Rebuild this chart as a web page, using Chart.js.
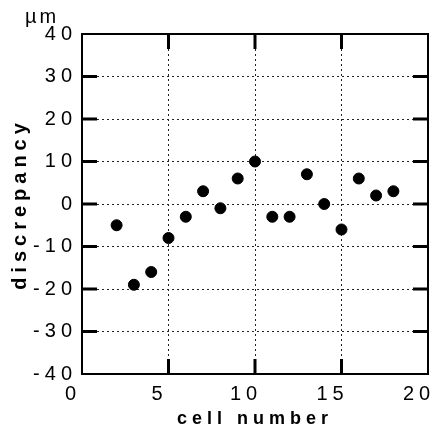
<!DOCTYPE html>
<html>
<head>
<meta charset="utf-8">
<script src="https://cdn.jsdelivr.net/npm/chart.js@4/dist/chart.umd.min.js"></script>
<style>
  html, body { margin: 0; padding: 0; background: #fff; }
  #chart { display: block; }
</style>
</head>
<body>
<canvas id="chart" width="435" height="432"></canvas>
<script>
const cellNumbers = [2, 3, 4, 5, 6, 7, 8, 9, 10, 11, 12, 13, 14, 15, 16, 17, 18];
const discrepancy = [-5, -19, -16, -8, -3, 3, -1, 6, 10, -3, -3, 7, 0, -6, 6, 2, 3];
const xTicks = [0, 5, 10, 15, 20];
const yTicks = [-40, -30, -20, -10, 0, 10, 20, 30, 40];
const unitLabel = "µm";

const FONT = "'Liberation Sans', Arial, Helvetica, sans-serif";

// spaced-out lettering like the original
const spacingPlugin = {
  id: "spacing",
  beforeUpdate: (chart) => { chart.ctx.letterSpacing = "5px"; },
  beforeDraw: (chart) => { chart.ctx.letterSpacing = "5px"; },
};

// full frame, inward tick marks and the unit label
const framePlugin = {
  id: "frame",
  afterDraw: (chart) => {
    const { ctx, chartArea: a, scales } = chart;
    ctx.save();
    ctx.strokeStyle = "#000";
    ctx.lineWidth = 2;
    ctx.setLineDash([]);
    ctx.strokeRect(a.left, a.top, a.right - a.left, a.bottom - a.top);

    ctx.lineWidth = 3;
    const len = 15;
    ctx.beginPath();
    xTicks.slice(1, -1).forEach((v) => {
      const px = scales.x.getPixelForValue(v);
      ctx.moveTo(px, a.bottom);
      ctx.lineTo(px, a.bottom - len);
      ctx.moveTo(px, a.top);
      ctx.lineTo(px, a.top + len);
    });
    yTicks.slice(1, -1).forEach((v) => {
      const py = scales.y.getPixelForValue(v);
      ctx.moveTo(a.left, py);
      ctx.lineTo(a.left + len, py);
      ctx.moveTo(a.right, py);
      ctx.lineTo(a.right - len, py);
    });
    ctx.stroke();

    ctx.letterSpacing = "3px";
    ctx.fillStyle = "#000";
    ctx.font = "20px " + FONT;
    ctx.textBaseline = "alphabetic";
    ctx.textAlign = "left";
    ctx.fillText(unitLabel, 25, 23);
    ctx.restore();
  },
};

new Chart(document.getElementById("chart"), {
  type: "scatter",
  data: {
    datasets: [
      {
        data: cellNumbers.map((x, i) => ({ x, y: discrepancy[i] })),
        backgroundColor: "#000",
        borderColor: "#000",
        pointRadius: 5.5,
        pointHoverRadius: 5.5,
      },
    ],
  },
  options: {
    responsive: false,
    animation: false,
    events: [],
    layout: { padding: { top: 34, right: 7, left: 0, bottom: 0 } },
    plugins: {
      legend: { display: false },
      tooltip: { enabled: false },
    },
    scales: {
      x: {
        type: "linear",
        min: 0,
        max: 20,
        afterBuildTicks: (scale) => { scale.ticks = xTicks.map((value) => ({ value })); },
        afterFit: (scale) => {
          scale.height = 58;
          scale.paddingLeft = 0;
          scale.paddingRight = 0;
        },
        ticks: {
          color: "#000",
          font: { family: FONT, size: 20 },
          padding: 8,
          labelOffset: -9,
          maxRotation: 0,
        },
        grid: { color: "#222", lineWidth: 1, drawTicks: false },
        border: { display: false, dash: [2, 3] },
        title: {
          display: true,
          text: "cell number",
          color: "#000",
          font: { family: FONT, size: 18, weight: "bold" },
          padding: { top: 0, bottom: 2 },
        },
      },
      y: {
        type: "linear",
        min: -40,
        max: 40,
        afterBuildTicks: (scale) => { scale.ticks = yTicks.map((value) => ({ value })); },
        afterFit: (scale) => {
          scale.width = 82;
          scale.paddingTop = 0;
          scale.paddingBottom = 0;
        },
        ticks: {
          color: "#000",
          font: { family: FONT, size: 20 },
          padding: 5,
        },
        grid: { color: "#222", lineWidth: 1, drawTicks: false },
        border: { display: false, dash: [2, 3] },
        title: {
          display: true,
          text: "discrepancy",
          color: "#000",
          font: { family: FONT, size: 20, weight: "bold" },
          padding: { top: 8, bottom: 0 },
        },
      },
    },
  },
  plugins: [spacingPlugin, framePlugin],
});
</script>
</body>
</html>
